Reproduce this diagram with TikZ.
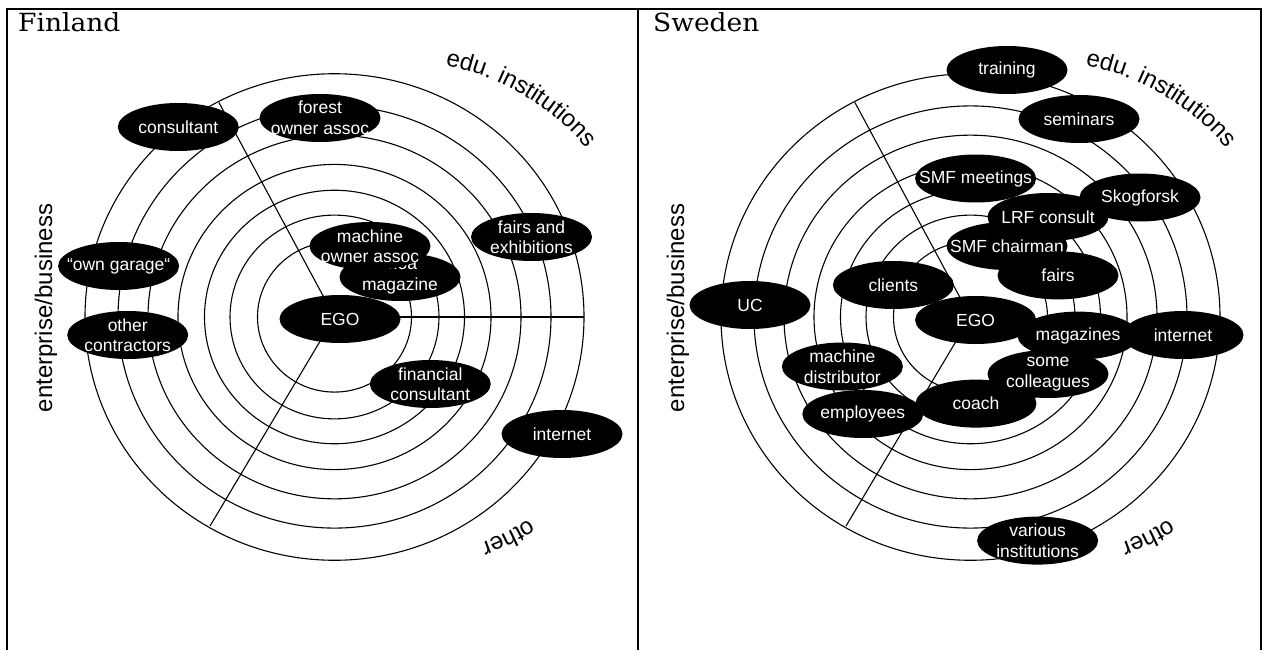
\documentclass[tikz,border=0pt]{standalone}
\usepackage{fontspec}
\setmainfont{Liberation Serif}
\setsansfont{Liberation Sans}
\newfontfamily\titlefont[FakeStretch=1.06]{DejaVu Serif}
\usetikzlibrary{shapes.geometric,decorations.text}

\newcommand\catfont{\sffamily\fontsize{24}{28}\selectfont}

\tikzset{
  ring/.style={line width=1.1pt},
  spoke/.style={line width=1.1pt},
  frameline/.style={line width=1.6pt},
  blob/.style={ellipse, fill=black, minimum width=121pt, minimum height=48pt,
               inner sep=0pt, outer sep=0pt},
  blobtext/.style={text=white, font=\sffamily\fontsize{17.5}{20.5}\selectfont,
                   align=center, inner sep=0pt},
  cat/.style={font=\catfont, inner sep=0pt},
  paneltitle/.style={font=\titlefont\fontsize{25}{29}\selectfont,
                     anchor=base west, inner sep=0pt},
}

% black ellipse with white text: name, position, text
\newcommand\contact[3]{\node[blob, label={[blobtext]center:#3}] (#1) at (#2) {};}

% seven concentric rings around a named centre
\newcommand\rings[1]{%
  \foreach \r in {249.5,216.5,186.5,156.5,130,104.5,77}
    \draw[ring] (#1) ellipse[x radius=\r, y radius=0.975*\r];}

\begin{document}
\begin{tikzpicture}[x=1pt, y=-1pt]
\useasboundingbox (0,0) rectangle (1263,650);

% table frame
\draw[frameline] (7,650) -- (7,9) -- (1261,9) -- (1261,650);
\draw[frameline] (638,9) -- (638,650);

\node[paneltitle] (fiTitle) at (18,32) {Finland};
\node[paneltitle] (seTitle) at (653,32) {Sweden};

% ---------------- Finland ----------------
\coordinate (fiC) at (334.5,317);
\rings{fiC}
\draw[spoke] (fiC) -- ++(249.5,0);
\draw[spoke] (fiC) -- ++(-115.6,-214.5);
\draw[spoke] (fiC) -- ++(-124.5,209);

\contact{fiCons}{178.3,127}{consultant}
\contact{fiForest}{320,118}{forest\\owner assoc}
\contact{fiMoa}{400,277}{moa\\magazine}
\contact{fiMachine}{370,246}{machine\\owner assoc}
\contact{fiFairs}{531.5,237}{fairs and\\exhibitions}
\contact{fiGarage}{118.6,266}{“own garage“}
\contact{fiEgo}{340,319}{EGO}
\contact{fiOther}{127.7,335}{other\\contractors}
\contact{fiFin}{430.3,384}{financial\\consultant}
\contact{fiNet}{562,434}{internet}

\node[cat, rotate=90] (fiEnt) at (46,308) {enterprise/business};
\path[decorate, decoration={text along path, text={|\catfont|edu. institutions}}]
  (398,309) ++(-79:248) arc[start angle=-79, end angle=-20, radius=248];
\path[decorate, decoration={text along path, text={|\catfont|other}}]
  (398,309) ++(57.9:248) arc[start angle=57.9, end angle=85, radius=248];

% ---------------- Sweden ----------------
\coordinate (seC) at (970.5,317);
\rings{seC}
\draw[spoke] (seC) -- ++(-115.6,-214.5);
\draw[spoke] (seC) -- ++(-124.5,209);

\contact{seTraining}{1007,70}{training}
\contact{seSeminars}{1079,119}{seminars}
\contact{seSmfMeet}{975.6,178.5}{SMF meetings}
\contact{seSkog}{1140,197.5}{Skogforsk}
\contact{seSmfChair}{1007,246}{SMF chairman}
\contact{seLrf}{1048,217}{LRF consult}
\contact{seFairs}{1058,275.4}{fairs}
\contact{seClients}{893.4,285}{clients}
\contact{seUC}{750,305}{UC}
\contact{seEgo}{975.6,320}{EGO}
\contact{seMag}{1078,335.6}{magazines}
\contact{seNet}{1183,335}{internet}
\contact{seDistr}{842.4,366.5}{machine\\distributor}
\contact{seEmpl}{862.8,414}{employees}
\contact{seCoach}{976,403.6}{coach}
\contact{seColl}{1048,374}{some\\colleagues}
\contact{seVarious}{1037.6,540.6}{various\\institutions}

\node[cat, rotate=90] (seEnt) at (678,308) {enterprise/business};
\path[decorate, decoration={text along path, text={|\catfont|edu. institutions}}]
  (1038,309) ++(-79:248) arc[start angle=-79, end angle=-20, radius=248];
\path[decorate, decoration={text along path, text={|\catfont|other}}]
  (1038,309) ++(57.9:248) arc[start angle=57.9, end angle=85, radius=248];
\end{tikzpicture}
\end{document}
